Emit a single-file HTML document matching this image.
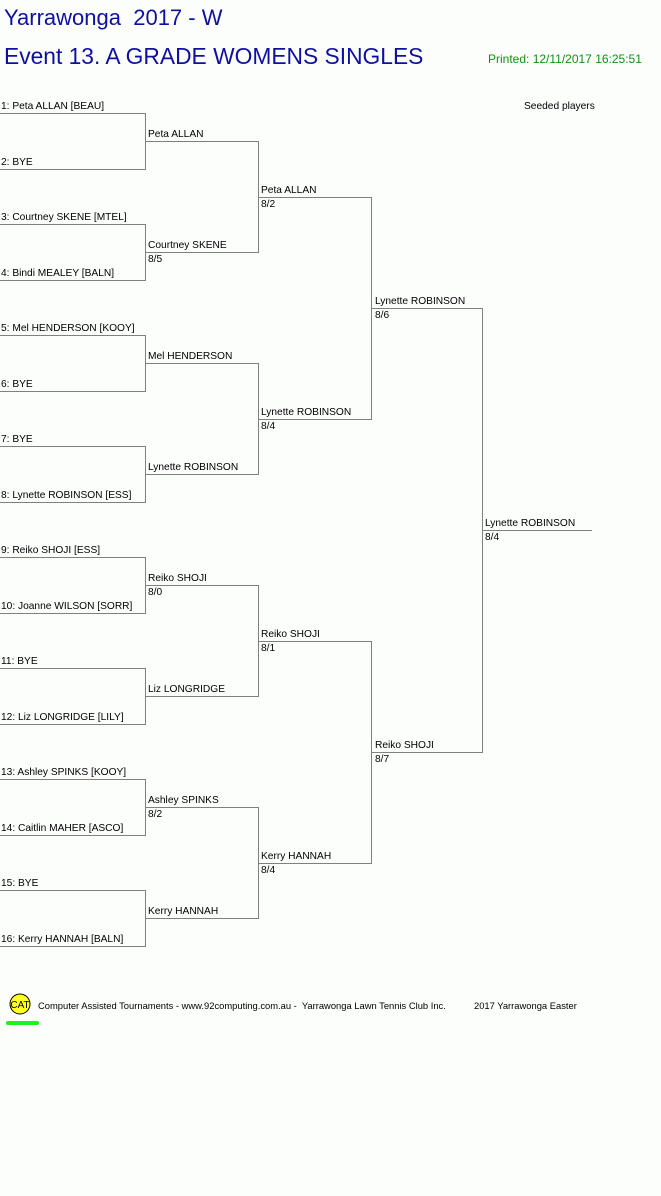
<!DOCTYPE html>
<html><head><meta charset="utf-8"><style>
html,body{margin:0;padding:0;background:#fcfefc;}
svg{display:block;font-family:"Liberation Sans",Arial,sans-serif;}
.n{font-size:10.2px;fill:#000;}
</style></head><body>
<svg width="661" height="1196" viewBox="0 0 661 1196" xmlns="http://www.w3.org/2000/svg">
<rect width="661" height="1196" fill="#fcfefc"/>
<text x="4" y="25" font-size="22" fill="#1010a0">Yarrawonga&#160; 2017 - W</text>
<text x="4" y="64" font-size="22.8" fill="#1010a0">Event 13. A GRADE WOMENS SINGLES</text>
<text x="488" y="63" font-size="12" fill="#109010">Printed: 12/11/2017 16:25:51</text>
<text x="524" y="109" class="n">Seeded players</text>
<g stroke="#808080" stroke-width="1" fill="none">
<path d="M0 113.5H145.5V169.5H0"/>
<path d="M0 224.5H145.5V280.5H0"/>
<path d="M0 335.5H145.5V391.5H0"/>
<path d="M0 446.5H145.5V502.5H0"/>
<path d="M0 557.5H145.5V613.5H0"/>
<path d="M0 668.5H145.5V724.5H0"/>
<path d="M0 779.5H145.5V835.5H0"/>
<path d="M0 890.5H145.5V946.5H0"/>
<path d="M145 141.5H258.5V252.5H145"/>
<path d="M145 363.5H258.5V474.5H145"/>
<path d="M145 585.5H258.5V696.5H145"/>
<path d="M145 807.5H258.5V918.5H145"/>
<path d="M258 197.5H371.5V419.5H258"/>
<path d="M258 641.5H371.5V863.5H258"/>
<path d="M371 308.5H482.5V752.5H371"/>
<path d="M482 530.5H592"/>
</g>
<g class="n">
<text x="1" y="109" class="n">1: Peta ALLAN [BEAU]</text>
<text x="1" y="165" class="n">2: BYE</text>
<text x="1" y="220" class="n">3: Courtney SKENE [MTEL]</text>
<text x="1" y="276" class="n">4: Bindi MEALEY [BALN]</text>
<text x="1" y="331" class="n">5: Mel HENDERSON [KOOY]</text>
<text x="1" y="387" class="n">6: BYE</text>
<text x="1" y="442" class="n">7: BYE</text>
<text x="1" y="498" class="n">8: Lynette ROBINSON [ESS]</text>
<text x="1" y="553" class="n">9: Reiko SHOJI [ESS]</text>
<text x="1" y="609" class="n">10: Joanne WILSON [SORR]</text>
<text x="1" y="664" class="n">11: BYE</text>
<text x="1" y="720" class="n">12: Liz LONGRIDGE [LILY]</text>
<text x="1" y="775" class="n">13: Ashley SPINKS [KOOY]</text>
<text x="1" y="831" class="n">14: Caitlin MAHER [ASCO]</text>
<text x="1" y="886" class="n">15: BYE</text>
<text x="1" y="942" class="n">16: Kerry HANNAH [BALN]</text>
<text x="148" y="137" class="n">Peta ALLAN</text>
<text x="148" y="248" class="n">Courtney SKENE</text>
<text x="148" y="262" class="n">8/5</text>
<text x="148" y="359" class="n">Mel HENDERSON</text>
<text x="148" y="470" class="n">Lynette ROBINSON</text>
<text x="148" y="581" class="n">Reiko SHOJI</text>
<text x="148" y="595" class="n">8/0</text>
<text x="148" y="692" class="n">Liz LONGRIDGE</text>
<text x="148" y="803" class="n">Ashley SPINKS</text>
<text x="148" y="817" class="n">8/2</text>
<text x="148" y="914" class="n">Kerry HANNAH</text>
<text x="261" y="193" class="n">Peta ALLAN</text>
<text x="261" y="207" class="n">8/2</text>
<text x="261" y="415" class="n">Lynette ROBINSON</text>
<text x="261" y="429" class="n">8/4</text>
<text x="261" y="637" class="n">Reiko SHOJI</text>
<text x="261" y="651" class="n">8/1</text>
<text x="261" y="859" class="n">Kerry HANNAH</text>
<text x="261" y="873" class="n">8/4</text>
<text x="375" y="304" class="n">Lynette ROBINSON</text>
<text x="375" y="318" class="n">8/6</text>
<text x="375" y="748" class="n">Reiko SHOJI</text>
<text x="375" y="762" class="n">8/7</text>
<text x="485" y="526" class="n">Lynette ROBINSON</text>
<text x="485" y="540" class="n">8/4</text>
</g>
<circle cx="20" cy="1004" r="10" fill="#ffff20" stroke="#000" stroke-width="1"/>
<text x="20" y="1008" font-size="10" text-anchor="middle" fill="#000">CAT</text>
<rect x="6" y="1021" width="33" height="4" rx="2" fill="#20f020"/>
<text x="38" y="1009" font-size="9.4" fill="#000">Computer Assisted Tournaments - www.92computing.com.au -&#160; Yarrawonga Lawn Tennis Club Inc.</text>
<text x="474" y="1009" font-size="9.4" fill="#000">2017 Yarrawonga Easter</text>
</svg>
</body></html>
